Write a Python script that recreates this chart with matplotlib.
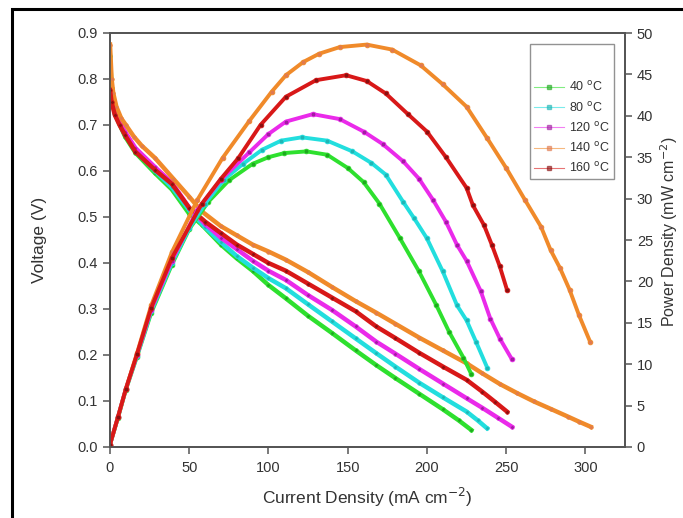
import matplotlib
matplotlib.use('Agg')
import matplotlib.pyplot as plt
from matplotlib.patches import Rectangle

plt.rcParams['font.family'] = ['Liberation Sans', 'DejaVu Sans']

labels = ['40 $^{\\mathrm{o}}$C', '80 $^{\\mathrm{o}}$C', '120 $^{\\mathrm{o}}$C',
          '140 $^{\\mathrm{o}}$C', '160 $^{\\mathrm{o}}$C']
colors = ['#2ee02e', '#22dede', '#ea2aea', '#f08a2a', '#d81818']
mcolors = ['#1fa81f', '#1fb5b5', '#a01ea0', '#e07a50', '#8a1010']

# polarization curves: current density (mA cm-2) / voltage (V)
i_40 = [0, 1, 3, 9.5, 16, 28.5, 39, 50, 58, 70, 80, 90, 100, 111, 125, 140, 155, 168, 180, 195, 210, 220, 228]
v_40 = [0.85, 0.78, 0.725, 0.675, 0.64, 0.595, 0.56, 0.507, 0.483, 0.44, 0.41, 0.383, 0.352, 0.323, 0.285,
        0.248, 0.21, 0.178, 0.15, 0.116, 0.082, 0.058, 0.037]
i_80 = [0, 1, 3, 9.5, 16, 28.5, 39, 50, 60, 70, 80, 90, 100, 111, 125, 140, 155, 168, 180, 195, 210, 225, 232, 237.8]
v_80 = [0.80, 0.76, 0.725, 0.68, 0.645, 0.60, 0.565, 0.515, 0.478, 0.445, 0.415, 0.39, 0.367, 0.345, 0.31,
        0.273, 0.236, 0.204, 0.175, 0.14, 0.108, 0.077, 0.058, 0.041]
i_120 = [0, 1, 3, 9.5, 16, 28.5, 39, 50, 60, 70, 80, 90, 100, 111, 125, 140, 155, 168, 180, 195, 210, 225, 235,
         245, 253.6]
v_120 = [0.78, 0.755, 0.73, 0.685, 0.65, 0.608, 0.575, 0.52, 0.485, 0.455, 0.43, 0.405, 0.383, 0.363, 0.33,
         0.298, 0.262, 0.229, 0.203, 0.17, 0.138, 0.106, 0.085, 0.063, 0.044]
i_140 = [0, 1, 2, 4, 7, 10, 15, 20, 28.5, 40, 50, 58, 70, 80, 90, 100, 111, 125, 140, 155, 168, 180, 195, 210,
         225, 235, 246, 257, 267.5, 278, 289, 296, 303.3]
v_140 = [0.875, 0.80, 0.77, 0.74, 0.715, 0.70, 0.675, 0.655, 0.628, 0.583, 0.544, 0.512, 0.48, 0.46, 0.44,
         0.425, 0.407, 0.38, 0.348, 0.317, 0.292, 0.268, 0.238, 0.21, 0.182, 0.16, 0.137, 0.117, 0.099,
         0.083, 0.066, 0.055, 0.044]
i_160 = [0, 1, 3, 6, 9.5, 16, 28.5, 39, 50, 60, 70, 80, 90, 100, 111, 125, 140, 155, 168, 180, 195, 210, 225,
         235, 243, 250.5]
v_160 = [0.776, 0.75, 0.722, 0.70, 0.678, 0.642, 0.602, 0.572, 0.52, 0.49, 0.465, 0.44, 0.42, 0.40, 0.383,
         0.355, 0.325, 0.295, 0.262, 0.237, 0.205, 0.175, 0.146, 0.12, 0.098, 0.077]

# power density curves: current density (mA cm-2) / power (mW cm-2)
pi_40 = [0, 5, 10, 17, 26, 39, 50, 62, 75, 90, 100, 110, 124, 137, 150, 160, 170, 183, 195, 206, 214, 223, 228]
p_40 = [0.3, 3.5, 6.9, 10.9, 16.2, 22.0, 26.3, 29.6, 32.2, 34.2, 35.0, 35.5, 35.7, 35.3, 33.7, 32.0, 29.4,
        25.2, 21.2, 17.1, 13.9, 10.8, 8.8]
pi_80 = [0, 5, 10, 17, 26, 39, 50, 60, 72, 84, 96, 108, 121, 137, 153, 165, 174, 185, 192, 200, 210, 219, 225,
         231, 238]
p_80 = [0.3, 3.6, 7.0, 11.0, 16.4, 22.2, 26.4, 29.4, 32.3, 34.2, 35.9, 37.0, 37.4, 37.0, 35.7, 34.3, 32.9,
        29.6, 27.6, 25.2, 21.2, 17.1, 15.3, 12.7, 9.6]
pi_120 = [0, 5, 10, 17, 26, 39, 55, 70, 88, 100, 111, 128, 145, 160, 172, 185, 195, 204, 212, 219, 225, 234,
          240, 246, 253.6]
p_120 = [0.3, 3.6, 7.0, 11.1, 16.6, 22.5, 28.6, 32.3, 35.6, 37.8, 39.3, 40.2, 39.6, 38.1, 36.6, 34.5, 32.4,
         29.8, 27.2, 24.4, 22.5, 18.8, 15.5, 13.1, 10.6]
pi_140 = [0, 5, 10, 17, 26, 39, 55, 71, 88, 102, 111, 122, 132, 145, 162, 178, 196, 210, 225, 238, 250, 262,
          272, 278, 284, 290, 296, 303]
p_140 = [0.3, 3.6, 7.0, 11.3, 17.1, 23.5, 29.8, 34.9, 39.4, 42.9, 44.9, 46.5, 47.5, 48.3, 48.6, 48.0, 46.1,
         43.8, 41.1, 37.3, 33.7, 29.8, 26.6, 23.8, 21.6, 19.0, 15.9, 12.7]
pi_160 = [0, 5, 10, 17, 26, 39, 58, 70, 81, 95, 111, 130, 149, 162, 174, 188, 200, 212, 225, 229, 236, 241,
          246, 250.5]
p_160 = [0.3, 3.6, 7.0, 11.2, 16.8, 22.8, 29.4, 32.4, 34.9, 38.9, 42.3, 44.3, 44.9, 44.2, 42.7, 40.2, 38.1,
         35.0, 31.3, 29.2, 26.8, 24.4, 21.8, 19.0]

v_curves = [(i_40, v_40), (i_80, v_80), (i_120, v_120), (i_140, v_140), (i_160, v_160)]
p_curves = [(pi_40, p_40), (pi_80, p_80), (pi_120, p_120), (pi_140, p_140), (pi_160, p_160)]

txt = '#333333'
fig = plt.figure(figsize=(6.83, 5.18), dpi=100)
ax = fig.add_axes([110 / 683, 1 - 447 / 518, 515 / 683, 414 / 518])
ax2 = ax.twinx()

for (x, y), c, mc in zip(v_curves, colors, mcolors):
    ax.plot(x, y, '-', color=c, lw=3.2, marker='o', ms=2.6, mfc=mc, mec=c, mew=0.5, zorder=3)

handles = []
for (x, y), c, mc, lab in zip(p_curves, colors, mcolors, labels):
    ax2.plot(x, y, '-', color=c, lw=2.8, marker='o', ms=3.4, mfc=mc, mec=c, mew=0.6)
    h, = ax.plot([], [], '-', color=c, lw=0.8, alpha=0.6, marker='s', ms=3.5, mfc=mc, mec=mc, label=lab)
    handles.append(h)

ax.set_xlim(0, 325)
ax.set_ylim(0, 0.9)
ax2.set_ylim(0, 50)
ax.set_xticks([0, 50, 100, 150, 200, 250, 300])
ax.set_yticks([0.0, 0.1, 0.2, 0.3, 0.4, 0.5, 0.6, 0.7, 0.8, 0.9])
ax2.set_yticks([0, 5, 10, 15, 20, 25, 30, 35, 40, 45, 50])

for a in (ax, ax2):
    for s in a.spines.values():
        s.set_color('#555555')
        s.set_linewidth(1.3)
    a.tick_params(direction='out', length=5, width=1.1, color='#555555', labelsize=10.5, labelcolor=txt)
ax.tick_params(axis='x', pad=5)

ax.set_xlabel('Current Density (mA cm$^{-2}$)', fontsize=12.5, color=txt, labelpad=8)
ax.set_ylabel('Voltage (V)', fontsize=12.5, color=txt, labelpad=22)
ax2.set_ylabel('Power Density (mW cm$^{-2}$)', fontsize=11.5, color=txt)
ax2.yaxis.set_label_coords(1.064, 0.52)

leg = ax.legend(handles=handles, loc='upper right', bbox_to_anchor=(0.978, 0.973), fontsize=9,
                title=' ', title_fontsize=20, fancybox=False, frameon=True, edgecolor='#777777',
                handlelength=2.4, labelspacing=0.5, borderpad=0.3, handletextpad=0.4, borderaxespad=0)
leg.get_frame().set_linewidth(1.0)
for t in leg.get_texts():
    t.set_color(txt)

fig.patches.append(Rectangle((12 / 683, -0.05), 1.1, 1.05 - 9 / 518, transform=fig.transFigure,
                             fill=False, edgecolor='black', lw=2.2))

fig.savefig('out.png', dpi=100)
